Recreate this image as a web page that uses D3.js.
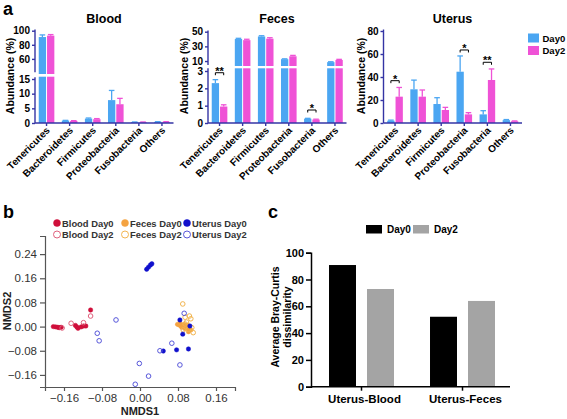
<!DOCTYPE html>
<html><head><meta charset="utf-8">
<script src="https://cdn.jsdelivr.net/npm/d3@7"></script>
<style>body{margin:0;background:#fff} svg{display:block;font-family:"Liberation Sans",Arial,sans-serif}</style>
</head><body><svg id="c" width="567" height="419"></svg>
<script>
// ---------- Panel a data ----------
const taxa = ["Tenericutes","Bacteroidetes","Firmicutes","Proteobacteria","Fusobacteria","Others"];
const days = ["Day0","Day2"];
const bloodDay0 = [91, 0.8, 1.5, 7.8, 0.3, 0.4];
const bloodDay0Err = [3, 0.1, 0.2, 3.3, 0.05, 0.05];
const bloodDay2 = [93, 0.7, 1.3, 6.4, 0.3, 0.4];
const bloodDay2Err = [1.5, 0.1, 0.2, 2.0, 0.05, 0.05];
const fecesDay0 = [2.3, 40, 43.5, 12.5, 0.25, 8.5];
const fecesDay0Err = [0.2, 1, 1, 0.5, 0.02, 0.5];
const fecesDay2 = [0.95, 38.5, 40.5, 16.5, 0.2, 11.5];
const fecesDay2Err = [0.1, 1.2, 1.3, 1.2, 0.02, 0.8];
const uterusDay0 = [2, 29.3, 16.5, 44.6, 7.5, 2.5];
const uterusDay0Err = [0.5, 8, 5.5, 13.7, 3.2, 0.5];
const uterusDay2 = [22.9, 22.9, 11.3, 7.5, 37.4, 1.5];
const uterusDay2Err = [8, 5.8, 2.3, 1.5, 9.6, 0.3];
const fecesSig = [{taxon:"Tenericutes", label:"**", value:2.9}, {taxon:"Fusobacteria", label:"*", value:0.75}];
const uterusSig = [{taxon:"Tenericutes", label:"*", value:36.8}, {taxon:"Proteobacteria", label:"*", value:63.5}, {taxon:"Fusobacteria", label:"**", value:52.8}];
const bloodTicksTop = [60, 80, 100], bloodTicksBottom = [0, 5, 10, 15];
const fecesTicksTop = [10, 30, 50], fecesTicksBottom = [0, 1, 2, 3];
const uterusTicks = [0, 20, 40, 60, 80];

// ---------- Panel b data (NMDS1, NMDS2) ----------
const bloodDay0Pts = [[-0.1825,0],[-0.1775,-0.001],[-0.173,-0.0024],[-0.170,-0.0035],[-0.166,-0.0024],[-0.136,0.004],[-0.133,-0.001],[-0.1305,-0.0057],[-0.124,-0.001],[-0.119,0.002],[-0.114,0.002],[-0.104,0.055]];
const bloodDay2Pts = [[-0.164,-0.0046],[-0.145,0.011],[-0.119,0.013],[-0.104,0.035]];
const fecesDay0Pts = [[0.079,0.0075],[0.083,0.005],[0.086,0.002],[0.089,0.005],[0.091,0],[0.093,0.0075],[0.096,0.002],[0.098,-0.0024],[0.100,0.005],[0.103,-0.0057],[0.107,-0.011],[0.088,-0.0024],[0.095,-0.0068],[0.102,-0.017],[0.084,0.011]];
const fecesDay2Pts = [[0.090,0.075],[0.104,0.035],[0.107,0.026],[0.098,0.015],[0.095,0.031],[0.109,-0.0035],[0.112,-0.020],[0.102,-0.009],[0.095,0.0086],[0.091,-0.011]];
const uterusDay0Pts = [[0.014,0.190],[0.018,0.197],[0.022,0.204],[0.025,0.208],[0.049,-0.081],[0.077,-0.077],[0.102,-0.074],[0.084,0.022],[0.090,-0.025],[0.105,0.002]];
const uterusDay2Pts = [[-0.090,-0.022],[-0.086,-0.047],[-0.0505,0.022],[-0.010,-0.191],[-0.0014,-0.122],[0.018,-0.164],[0.042,-0.080],[0.067,-0.055],[0.084,-0.127],[0.093,0.044]];
const nmdsTicks = [-0.16, -0.08, 0, 0.08, 0.16];

// ---------- Panel c data ----------
const pairs = ["Uterus-Blood","Uterus-Feces"];
const brayDay0 = [90.8, 52.2];
const brayDay2 = [72.9, 64];
const brayTicks = [0, 20, 40, 60, 80, 100];

// ---------- drawing ----------
const svg = d3.select("#c");
const BLUE = "#4ba6f2", PINK = "#ef52d6", AX = "#3434a4";

function panelLetter(t, x, y) {
  svg.append("text").attr("x", x).attr("y", y).attr("font-size", 18).attr("font-weight", "bold").text(t);
}
panelLetter("a", 3, 15); panelLetter("b", 3, 218); panelLetter("c", 268, 218);

function barPanel(cfg) {
  const g = svg.append("g");
  const band = d3.scaleBand().domain(taxa).range([cfg.x0, cfg.x0 + 138.5]);
  const sub = d3.scaleBand().domain(days).range([0, band.bandwidth()]).paddingInner(0.12).paddingOuter(0.45);
  const segs = cfg.segs.map(s => ({...s, sc: d3.scaleLinear().domain(s.domain).range(s.range)}));
  const segFor = v => segs.find(s => v <= s.domain[1] + 1e-9 && v >= s.domain[0]) || segs[segs.length - 1];
  const series = [{day:"Day0", vals:cfg.d0, errs:cfg.e0, color:BLUE}, {day:"Day2", vals:cfg.d2, errs:cfg.e2, color:PINK}];
  series.forEach(se => {
    taxa.forEach((t, i) => {
      const v = se.vals[i], e = se.errs[i];
      const x = band(t) + sub(se.day), w = sub.bandwidth();
      segs.forEach(s => {
        if (v <= s.domain[0]) return;
        const top = v >= s.domain[1] ? s.barTop : s.sc(v);
        const bot = s.barBottom;
        g.append("rect").attr("x", x).attr("y", top).attr("width", w).attr("height", Math.max(0, bot - top)).attr("fill", se.color);
      });
      const s = segFor(v);
      const y1 = s.sc(v), y2 = s.sc(v + e), cx = x + w / 2;
      g.append("line").attr("x1", cx).attr("x2", cx).attr("y1", y1).attr("y2", y2).attr("stroke", se.color).attr("stroke-width", 1.3);
      g.append("line").attr("x1", cx - 2.8).attr("x2", cx + 2.8).attr("y1", y2).attr("y2", y2).attr("stroke", se.color).attr("stroke-width", 1.3);
    });
  });
  // axes
  segs.forEach(s => {
    g.append("line").attr("x1", cfg.x0).attr("x2", cfg.x0).attr("y1", s.axis[0]).attr("y2", s.axis[1]).attr("stroke", AX).attr("stroke-width", 1.4);
    const ax = g.append("g").attr("transform", `translate(${cfg.x0},0)`).call(d3.axisLeft(s.sc).tickValues(s.ticks).tickSize(3).tickPadding(2).tickFormat(d3.format("d")));
    ax.select(".domain").remove();
    ax.selectAll("line").attr("stroke", AX).attr("stroke-width", 1.4);
    ax.selectAll("text").attr("font-size", 10).attr("font-weight", "bold").attr("fill", "#000").attr("font-family", "Liberation Sans, Arial, sans-serif");
  });
  const base = segs[0].sc(0);
  g.append("line").attr("x1", cfg.x0).attr("x2", cfg.x0 + 138.5).attr("y1", base).attr("y2", base).attr("stroke", AX).attr("stroke-width", 1.4);
  taxa.forEach(t => {
    const cx = band(t) + band.bandwidth() / 2;
    g.append("line").attr("x1", cx).attr("x2", cx).attr("y1", base).attr("y2", base + 3).attr("stroke", AX).attr("stroke-width", 1.4);
    g.append("text").attr("transform", `translate(${cx + 4},${base + 8}) rotate(-45)`).attr("text-anchor", "end")
      .attr("font-size", 10).attr("font-weight", "bold").text(t);
  });
  // significance
  (cfg.sig || []).forEach(sg => {
    const s = segFor(sg.value), y = s.sc(sg.value);
    const xa = band(sg.taxon) + sub("Day0") + sub.bandwidth() / 2, xb = band(sg.taxon) + sub("Day2") + sub.bandwidth() / 2;
    g.append("path").attr("d", `M${xa},${y + 2.5}V${y}H${xb}V${y + 2.5}`).attr("fill", "none").attr("stroke", "#000").attr("stroke-width", 1);
    g.append("text").attr("x", (xa + xb) / 2).attr("y", y + 2).attr("text-anchor", "middle").attr("font-size", 11).attr("font-weight", "bold").text(sg.label);
  });
  // title & y label
  g.append("text").attr("x", cfg.x0 + 69).attr("y", 23).attr("text-anchor", "middle").attr("font-size", 12.5).attr("font-weight", "bold").text(cfg.title);
  g.append("text").attr("transform", `translate(${cfg.ylx},76) rotate(-90)`).attr("text-anchor", "middle").attr("font-size", 10.5).attr("font-weight", "bold").text("Abundance (%)");
}

barPanel({x0:35, title:"Blood", ylx:14, d0:bloodDay0, e0:bloodDay0Err, d2:bloodDay2, e2:bloodDay2Err,
  segs:[{domain:[0,15], range:[123,79], axis:[123,77.3], barBottom:123, barTop:76.7, ticks:bloodTicksBottom},
        {domain:[40,100], range:[73,30.7], axis:[72.3,29.5], barBottom:74, barTop:29, ticks:bloodTicksTop}]});
barPanel({x0:208, title:"Feces", ylx:188, d0:fecesDay0, e0:fecesDay0Err, d2:fecesDay2, e2:fecesDay2Err, sig:fecesSig,
  segs:[{domain:[0,3], range:[123,71], axis:[123,68.3], barBottom:123, barTop:68.3, ticks:fecesTicksBottom},
        {domain:[5,50], range:[64.7,31.7], axis:[65,30.5], barBottom:66, barTop:30, ticks:fecesTicksTop}]});
barPanel({x0:383.5, title:"Uterus", ylx:365, d0:uterusDay0, e0:uterusDay0Err, d2:uterusDay2, e2:uterusDay2Err, sig:uterusSig,
  segs:[{domain:[0,80], range:[123,31], axis:[123,29.5], barBottom:123, barTop:29, ticks:uterusTicks}]});

// legend a
[["Day0", BLUE], ["Day2", PINK]].forEach((d, i) => {
  svg.append("rect").attr("x", 528).attr("y", 33.5 + i * 12.5).attr("width", 11).attr("height", 9).attr("fill", d[1]);
  svg.append("text").attr("x", 542.5).attr("y", 41.5 + i * 12.5).attr("font-size", 9.5).attr("font-weight", "bold").text(d[0]);
});

// ---------- Panel b ----------
const xs = d3.scaleLinear().domain([-0.2, 0.2]).range([45, 235]);
const ys = d3.scaleLinear().domain([-0.2, 0.3]).range([387, 236]);
const GR = "#555";
const gb = svg.append("g");
const xa = gb.append("g").attr("transform", "translate(0,387)").call(d3.axisBottom(xs).tickValues(nmdsTicks).tickSize(4).tickFormat(d3.format(".2f")));
const ya = gb.append("g").attr("transform", "translate(45,0)").call(d3.axisLeft(ys).tickValues(nmdsTicks.concat([0.24])).tickSize(5).tickFormat(d3.format(".2f")));
[xa, ya].forEach(a => {
  a.select(".domain").attr("stroke", GR).attr("stroke-width", 1.2);
  a.selectAll("line").attr("stroke", GR).attr("stroke-width", 1.2);
  a.selectAll("text").attr("font-size", 11.5).attr("fill", "#333").attr("font-family", "Liberation Sans, Arial, sans-serif");
});
gb.append("text").attr("x", 140).attr("y", 415).attr("text-anchor", "middle").attr("font-size", 11).attr("font-weight", "bold").attr("fill", "#222").text("NMDS1");
gb.append("text").attr("transform", "translate(11,311) rotate(-90)").attr("text-anchor", "middle").attr("font-size", 11).attr("font-weight", "bold").attr("fill", "#222").text("NMDS2");

const groupsB = [
  {name:"Blood Day0", pts:bloodDay0Pts, color:"#cf0f3a", filled:true},
  {name:"Blood Day2", pts:bloodDay2Pts, color:"#e0607c", filled:false},
  {name:"Feces Day0", pts:fecesDay0Pts, color:"#f4a341", filled:true},
  {name:"Feces Day2", pts:fecesDay2Pts, color:"#f2b550", filled:false},
  {name:"Uterus Day0", pts:uterusDay0Pts, color:"#1010cc", filled:true},
  {name:"Uterus Day2", pts:uterusDay2Pts, color:"#5656da", filled:false}
];
groupsB.forEach(gr => {
  gb.selectAll(null).data(gr.pts).enter().append("circle")
    .attr("cx", d => xs(d[0])).attr("cy", d => ys(d[1])).attr("r", gr.filled ? 2.2 : 2.3)
    .attr("fill", gr.filled ? gr.color : "none").attr("stroke", gr.color).attr("stroke-width", gr.filled ? 0.5 : 1);
});
// legend b
const legX = [57, 125, 187];
groupsB.forEach((gr, i) => {
  const col = Math.floor(i / 2), row = i % 2;
  const x = legX[col], y = 223 + row * 11.5;
  gb.append("circle").attr("cx", x).attr("cy", y).attr("r", 3.5).attr("fill", gr.filled ? gr.color : "none").attr("stroke", gr.color).attr("stroke-width", gr.filled ? 0.5 : 1);
  gb.append("text").attr("x", x + 5).attr("y", y + 3.5).attr("font-size", 9.4).attr("font-weight", "bold").attr("fill", "#333").text(gr.name);
});

// ---------- Panel c ----------
const gc = svg.append("g");
const cb = d3.scaleBand().domain(pairs).range([311, 513]);
const csub = d3.scaleBand().domain(days).range([0, cb.bandwidth()]).paddingInner(0.29).paddingOuter(0.474);
const cy = d3.scaleLinear().domain([0, 100]).range([386.7, 252.7]);
const cSeries = [{day:"Day0", vals:brayDay0, color:"#000"}, {day:"Day2", vals:brayDay2, color:"#a4a4a4"}];
cSeries.forEach(se => {
  pairs.forEach((p, i) => {
    gc.append("rect").attr("x", cb(p) + csub(se.day)).attr("y", cy(se.vals[i])).attr("width", csub.bandwidth())
      .attr("height", cy(0) - cy(se.vals[i])).attr("fill", se.color);
  });
});
const cya = gc.append("g").attr("transform", "translate(311,0)").call(d3.axisLeft(cy).tickValues(brayTicks).tickSize(5).tickPadding(2));
cya.select(".domain").attr("stroke", "#000").attr("stroke-width", 1.5);
cya.selectAll("line").attr("stroke", "#000").attr("stroke-width", 1.5);
cya.selectAll("text").attr("font-size", 11).attr("font-weight", "bold").attr("fill", "#000").attr("font-family", "Liberation Sans, Arial, sans-serif");
gc.append("line").attr("x1", 311).attr("x2", 510).attr("y1", cy(0)).attr("y2", cy(0)).attr("stroke", "#000").attr("stroke-width", 1.5);
pairs.forEach(p => {
  const cx = cb(p) + cb.bandwidth() / 2;
  gc.append("line").attr("x1", cx).attr("x2", cx).attr("y1", cy(0)).attr("y2", cy(0) + 4).attr("stroke", "#000").attr("stroke-width", 1.5);
  gc.append("text").attr("x", cx + 3).attr("y", 403).attr("text-anchor", "middle").attr("font-size", 11.5).attr("font-weight", "bold").text(p);
});
gc.append("text").attr("transform", "translate(279,317) rotate(-90)").attr("text-anchor", "middle").attr("font-size", 10.5).attr("font-weight", "bold").text("Average Bray-Curtis");
gc.append("text").attr("transform", "translate(290.5,317) rotate(-90)").attr("text-anchor", "middle").attr("font-size", 10.5).attr("font-weight", "bold").text("dissimilarity");
[["Day0", "#000", 366], ["Day2", "#a4a4a4", 413]].forEach(d => {
  gc.append("rect").attr("x", d[2]).attr("y", 225).attr("width", 16).attr("height", 8.5).attr("fill", d[1]);
  gc.append("text").attr("x", d[2] + 21).attr("y", 232.5).attr("font-size", 10).attr("font-weight", "bold").text(d[0]);
});
</script></body></html>
